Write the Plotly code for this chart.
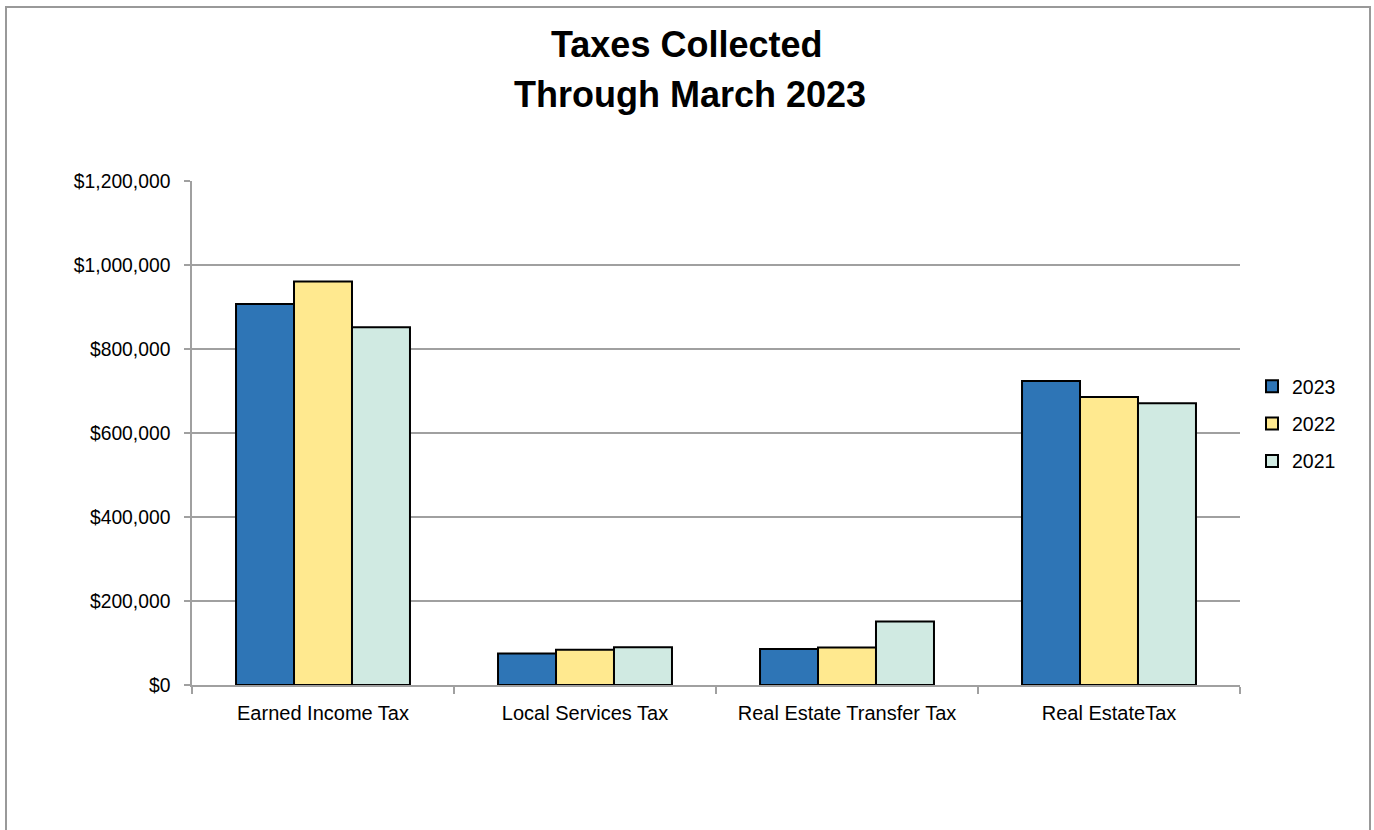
import plotly.graph_objects as go

categories = ["Earned Income Tax", "Local Services Tax", "Real Estate Transfer Tax", "Real EstateTax"]
years = ["2023", "2022", "2021"]
values_2023 = [907000, 75000, 86000, 724000]
values_2022 = [961000, 84000, 89000, 686000]
values_2021 = [852000, 90000, 151000, 671000]
colors = ["#2E75B6", "#FFE98F", "#D0EAE2"]

FONT = "Arial, 'Liberation Sans', sans-serif"
W, H = 1374, 830
L, R, T, B = 192, 134, 181, 145
pw, ph = W - L - R, H - T - B

def px_x(px):
    return (px - L) / pw

def px_y(py):
    return (H - B - py) / ph

fig = go.Figure()
for name, vals, col in zip(years, [values_2023, values_2022, values_2021], colors):
    fig.add_trace(go.Bar(
        x=categories, y=vals, name=name, legendgroup=name,
        marker=dict(color=col, line=dict(color="#000000", width=2)),
    ))

fig.update_layout(
    width=W, height=H,
    margin=dict(l=L, r=R, t=T, b=B, pad=0),
    paper_bgcolor="white", plot_bgcolor="white",
    font=dict(family=FONT, size=19, color="#000000"),
    barmode="group", bargap=0.336, bargroupgap=0,
    showlegend=True,
    legend=dict(x=px_x(1252), xanchor="left", y=px_y(424), yanchor="middle",
                font=dict(size=19.5), tracegroupgap=9, itemwidth=30,
                bgcolor="rgba(0,0,0,0)"),
    xaxis=dict(showgrid=False, showline=True, linecolor="#a0a0a0", linewidth=1.5,
               ticks="outside", tickson="boundaries", ticklen=7, tickcolor="#a0a0a0",
               tickwidth=1.5, ticklabelstandoff=9, tickfont=dict(size=20)),
    yaxis=dict(range=[0, 1200000], dtick=200000, tickprefix="$", tickformat=",d",
               showgrid=True, gridcolor="#a0a0a0", gridwidth=1.5,
               showline=True, linecolor="#a0a0a0", linewidth=1.5,
               ticks="outside", ticklen=6, tickcolor="#a0a0a0", tickwidth=1.5,
               ticklabelstandoff=10, tickfont=dict(size=19.3), zeroline=False),
    annotations=[
        dict(text="<b>Taxes Collected</b>", x=px_x(686), y=px_y(44), xref="paper", yref="paper",
             xanchor="center", yanchor="middle", showarrow=False, font=dict(size=36)),
        dict(text="<b>Through March 2023</b>", x=px_x(690), y=px_y(95), xref="paper", yref="paper",
             xanchor="center", yanchor="middle", showarrow=False, font=dict(size=36)),
    ],
    shapes=[dict(type="rect", xref="paper", yref="paper",
                 x0=px_x(6), x1=px_x(1370), y0=px_y(845), y1=px_y(7),
                 line=dict(color="#999999", width=2), fillcolor="rgba(0,0,0,0)", layer="below")],
)

fig.write_html("out.html", config={"displayModeBar": False},
               post_script="document.body.style.margin='0';document.body.style.overflow='hidden';")
